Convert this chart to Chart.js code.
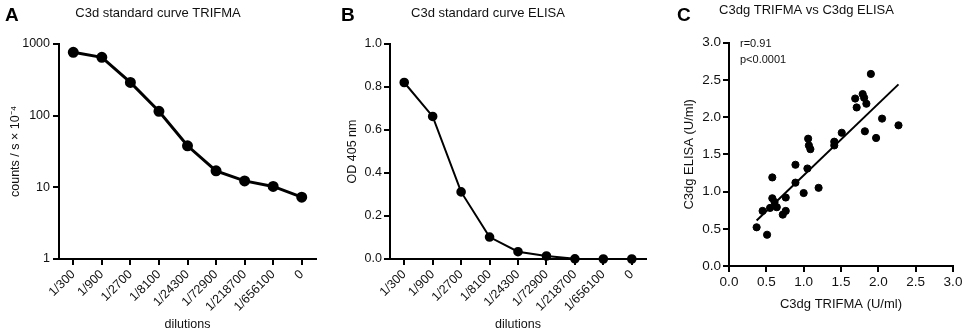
<!DOCTYPE html>
<html>
<head>
<meta charset="utf-8">
<script src="https://cdn.jsdelivr.net/npm/chart.js@4/dist/chart.umd.min.js"></script>
<style>
  body { margin: 0; background: #fff; width: 965px; height: 334px; position: relative; overflow: hidden; }
  .box { position: absolute; top: 0; height: 334px; }
  .letter { position: absolute; font: bold 19px "Liberation Sans", Arial, sans-serif; color: #000; }
</style>
</head>
<body>
<div class="box" style="left:0;width:330px"><canvas id="chartA"></canvas></div>
<div class="box" style="left:330px;width:330px"><canvas id="chartB"></canvas></div>
<div class="box" style="left:660px;width:305px"><canvas id="chartC"></canvas></div>
<div class="letter" style="left:5px;top:4px">A</div>
<div class="letter" style="left:341px;top:4px">B</div>
<div class="letter" style="left:677px;top:4px">C</div>
<script>
// dilution categories shared by A and B
var dilutions = ["1/300", "1/900", "1/2700", "1/8100", "1/24300", "1/72900", "1/218700", "1/656100", "0"];
var trifmaCounts = [765, 651, 291, 115, 38, 17, 12.3, 10.3, 7.3];
var elisaOD = [0.821, 0.663, 0.312, 0.102, 0.034, 0.014, 0.001, 0, 0];
var logTicks = [1, 10, 100, 1000];

// C: paired C3dg values (U/ml)
var trifmaUml = [0.37, 0.51, 0.45, 0.55, 0.58, 0.61, 0.64, 0.58, 0.72, 0.76, 0.76, 0.89, 0.89, 1.00, 1.05, 1.06, 1.07, 1.09, 1.20, 1.41, 1.41, 1.51, 1.69, 1.71, 1.79, 1.81, 1.84, 1.82, 1.90, 1.97, 2.05, 2.27];
var elisaUml  = [0.52, 0.42, 0.74, 0.78, 0.91, 0.86, 0.79, 1.19, 0.69, 0.74, 0.92, 1.12, 1.36, 0.98, 1.31, 1.71, 1.62, 1.57, 1.05, 1.67, 1.62, 1.79, 2.25, 2.13, 2.31, 2.26, 2.18, 1.81, 2.58, 1.72, 1.98, 1.89];
var fitX = [0.37, 2.27];
var fitY = [0.61, 2.44];

var FONT = "'Liberation Sans', Arial, sans-serif";
Chart.defaults.font.family = FONT;
Chart.defaults.color = "#111";

function axisStyle(extra) {
  var base = {
    border: { display: true, color: "#000", width: 2 },
    grid: { drawOnChartArea: false, drawTicks: true, tickLength: 6, color: "#000", lineWidth: 2 },
    ticks: { color: "#111", font: { size: 12 }, padding: 3 }
  };
  return Object.assign(base, extra);
}

function titleOpts(text, top, bottom) {
  return { display: true, text: text, color: "#111", font: { size: 13, weight: "normal" }, padding: { top: top, bottom: bottom } };
}

// A - TRIFMA standard curve (log)
new Chart(document.getElementById("chartA"), {
  type: "line",
  data: {
    labels: dilutions,
    datasets: [{
      data: trifmaCounts,
      borderColor: "#000", backgroundColor: "#000",
      borderWidth: 3, pointRadius: 4, pointHoverRadius: 4, tension: 0
    }]
  },
  options: {
    responsive: true, maintainAspectRatio: false, animation: false,
    layout: { padding: { left: 0, right: 14, top: 0, bottom: 2 } },
    plugins: { legend: { display: false }, tooltip: { enabled: false }, title: titleOpts("C3d standard curve TRIFMA", 5.5, 22.9) },
    scales: {
      x: axisStyle({
        type: "category", offset: true,
        ticks: { color: "#111", font: { size: 12.5 }, maxRotation: 45, minRotation: 45, autoSkip: false, padding: 2 },
        title: { display: true, text: "dilutions", color: "#111", font: { size: 12.5 }, padding: { top: 0, bottom: 0 } },
        afterFit: function (s) { s.height = 73; }
      }),
      y: axisStyle({
        type: "logarithmic", min: 1, max: 1000,
        afterBuildTicks: function (s) { s.ticks = logTicks.map(function (v) { return { value: v }; }); },
        ticks: { color: "#111", font: { size: 12.5 }, padding: 3, callback: function (v) { return String(v); } },
        title: { display: true, text: "counts / s \u00d7 10\u207b\u2074", color: "#111", font: { size: 12.5 }, padding: { top: 8, bottom: 0 } },
        afterFit: function (s) { s.width = 59; }
      })
    }
  }
});

// B - ELISA standard curve
new Chart(document.getElementById("chartB"), {
  type: "line",
  data: {
    labels: dilutions,
    datasets: [{
      data: elisaOD,
      borderColor: "#000", backgroundColor: "#000",
      borderWidth: 2, pointRadius: 3.8, pointHoverRadius: 3.8, tension: 0, clip: false
    }]
  },
  options: {
    responsive: true, maintainAspectRatio: false, animation: false,
    layout: { padding: { left: 0, right: 14, top: 0, bottom: 2 } },
    plugins: { legend: { display: false }, tooltip: { enabled: false }, title: titleOpts("C3d standard curve ELISA", 5.5, 22.9) },
    scales: {
      x: axisStyle({
        type: "category", offset: true,
        ticks: { color: "#111", font: { size: 12.5 }, maxRotation: 45, minRotation: 45, autoSkip: false, padding: 2 },
        title: { display: true, text: "dilutions", color: "#111", font: { size: 12.5 }, padding: { top: 0, bottom: 0 } },
        afterFit: function (s) { s.height = 73; }
      }),
      y: axisStyle({
        min: 0, max: 1,
        ticks: { color: "#111", font: { size: 12.5 }, padding: 2, stepSize: 0.2, callback: function (v) { return Number(v).toFixed(1); } },
        title: { display: true, text: "OD 405 nm", color: "#111", font: { size: 12.5 }, padding: { top: 15, bottom: 0 } },
        afterFit: function (s) { s.width = 60; }
      })
    }
  }
});

// C - correlation
var statsText = {
  id: "statsText",
  afterDraw: function (chart) {
    var ctx = chart.ctx, a = chart.chartArea;
    ctx.save();
    ctx.fillStyle = "#111";
    ctx.font = "11px " + FONT;
    ctx.textBaseline = "middle";
    ctx.fillText("r=0.91", a.left + 11, a.top + 1);
    ctx.fillText("p<0.0001", a.left + 11, a.top + 17);
    ctx.restore();
  }
};

new Chart(document.getElementById("chartC"), {
  type: "scatter",
  data: {
    datasets: [{
      data: trifmaUml.map(function (x, i) { return { x: x, y: elisaUml[i] }; }),
      backgroundColor: "#000", borderColor: "#000", pointRadius: 3.6, pointHoverRadius: 3.6
    }, {
      type: "line",
      data: fitX.map(function (x, i) { return { x: x, y: fitY[i] }; }),
      borderColor: "#000", borderWidth: 2, pointRadius: 0, showLine: true
    }]
  },
  options: {
    responsive: true, maintainAspectRatio: false, animation: false,
    layout: { padding: { left: 0, right: 12, top: 0, bottom: 22 } },
    plugins: { legend: { display: false }, tooltip: { enabled: false }, title: titleOpts("C3dg TRIFMA vs C3dg ELISA", 2.5, 24.6) },
    scales: {
      x: axisStyle({
        type: "linear", min: 0, max: 3,
        ticks: { color: "#111", font: { size: 13.5 }, padding: 2, stepSize: 0.5, callback: function (v) { return Number(v).toFixed(1); } },
        title: { display: true, text: "C3dg TRIFMA (U/ml)", color: "#111", font: { size: 13 }, padding: { top: 4, bottom: 0 } },
        afterFit: function (s) { s.height = 46; }
      }),
      y: axisStyle({
        type: "linear", min: 0, max: 3,
        ticks: { color: "#111", font: { size: 13.5 }, padding: 2, stepSize: 0.5, callback: function (v) { return Number(v).toFixed(1); } },
        title: { display: true, text: "C3dg ELISA (U/ml)", color: "#111", font: { size: 13 }, padding: { top: 22, bottom: 0 } },
        afterFit: function (s) { s.width = 69; }
      })
    }
  },
  plugins: [statsText]
});
</script>
</body>
</html>
